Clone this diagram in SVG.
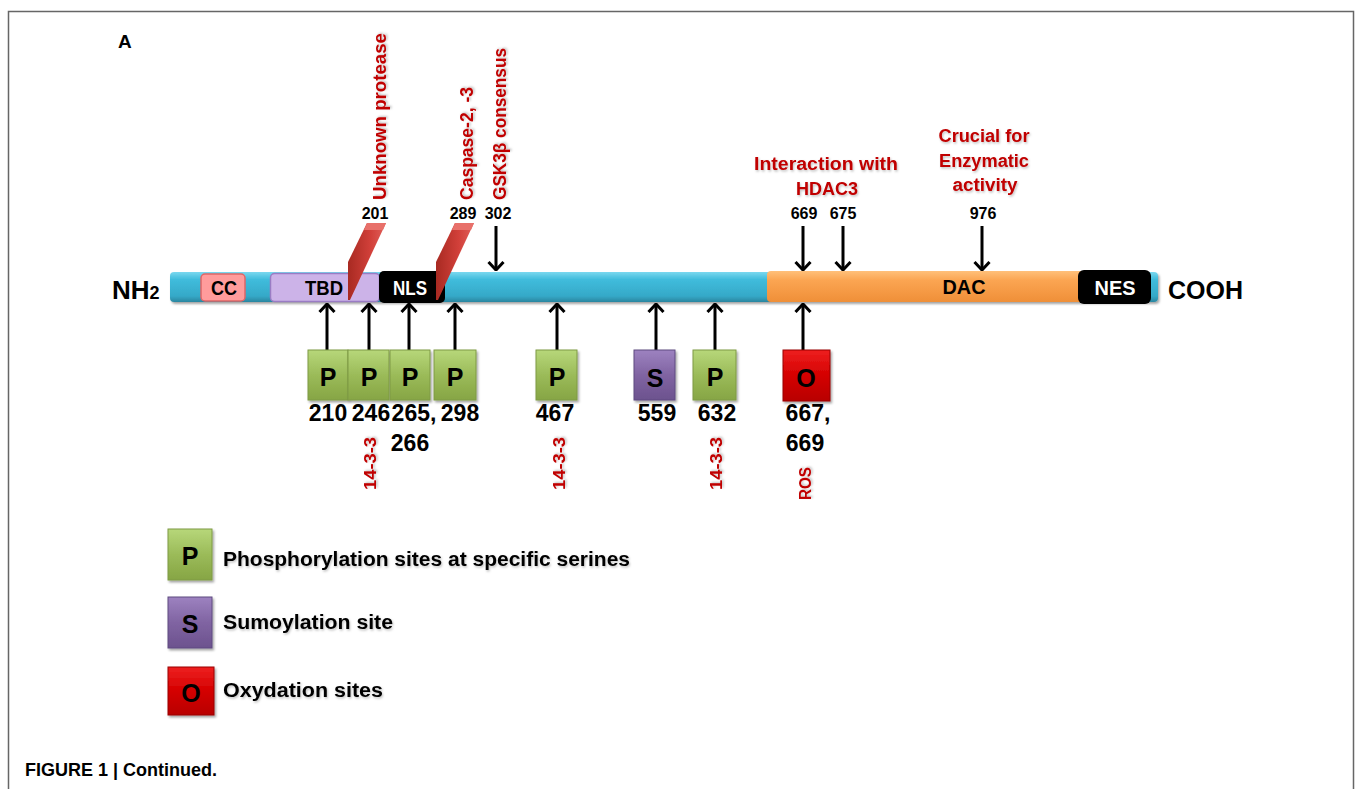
<svg xmlns="http://www.w3.org/2000/svg" width="1355" height="789" viewBox="0 0 1355 789">
<defs>
  <linearGradient id="gBar" x1="0" y1="0" x2="0" y2="1">
    <stop offset="0" stop-color="#7ad8ef"/>
    <stop offset="0.25" stop-color="#40bcdc"/>
    <stop offset="0.8" stop-color="#35a9c8"/>
    <stop offset="1" stop-color="#2a86a0"/>
  </linearGradient>
  <linearGradient id="gDac" x1="0" y1="0" x2="0" y2="1">
    <stop offset="0" stop-color="#ffc07a"/>
    <stop offset="0.3" stop-color="#fba552"/>
    <stop offset="1" stop-color="#ef8f38"/>
  </linearGradient>
  <linearGradient id="gGreen" x1="0" y1="0" x2="0" y2="1">
    <stop offset="0" stop-color="#b7d77a"/>
    <stop offset="0.5" stop-color="#9bbb59"/>
    <stop offset="1" stop-color="#86a544"/>
  </linearGradient>
  <linearGradient id="gPurple" x1="0" y1="0" x2="0" y2="1">
    <stop offset="0" stop-color="#9d82c0"/>
    <stop offset="0.5" stop-color="#8064a2"/>
    <stop offset="1" stop-color="#6c528e"/>
  </linearGradient>
  <linearGradient id="gRed" x1="0" y1="0" x2="0" y2="1">
    <stop offset="0" stop-color="#ee2020"/>
    <stop offset="0.5" stop-color="#d40000"/>
    <stop offset="1" stop-color="#b80000"/>
  </linearGradient>
  <linearGradient id="gBlade" x1="0" y1="0" x2="1" y2="0">
    <stop offset="0" stop-color="#a82a22"/>
    <stop offset="0.6" stop-color="#d2403a"/>
    <stop offset="1" stop-color="#e0605a"/>
  </linearGradient>
  <filter id="sh" x="-10%" y="-10%" width="130%" height="140%">
    <feDropShadow dx="1.5" dy="2" stdDeviation="1.2" flood-color="#000" flood-opacity="0.35"/>
  </filter>
  <filter id="tsh" x="-5%" y="-20%" width="110%" height="150%">
    <feDropShadow dx="1" dy="1.5" stdDeviation="1" flood-color="#000" flood-opacity="0.25"/>
  </filter>
  <marker id="ah" viewBox="0 0 10 18" refX="9" refY="9" markerWidth="10" markerHeight="18" markerUnits="userSpaceOnUse" orient="auto">
    <path d="M1,1.5 L9,9 L1,16.5" fill="none" stroke="#000" stroke-width="3"/>
  </marker>
  <style>
    text { font-family: "Liberation Sans", Arial, sans-serif; }
    .b { font-weight: bold; }
    .red { fill: #c00000; font-weight: bold; }
    .num { font-size: 23px; font-weight: bold; fill: #000; text-anchor: middle; }
    .tnum { font-size: 16px; font-weight: bold; fill: #000; text-anchor: middle; }
    .lt { font-size: 25px; font-weight: bold; fill: #000; text-anchor: middle; }
    .leg { font-size: 20px; font-weight: bold; fill: #000; }
    .dom { font-size: 20px; font-weight: bold; text-anchor: middle; }
    .arr { stroke: #000; stroke-width: 3; fill: none; marker-end: url(#ah); }
  </style>
</defs>

<rect x="0" y="0" width="1355" height="789" fill="#fff"/>
<path d="M8.5,789 V11.5 H1353.5 V789" fill="none" stroke="#666" stroke-width="1.5"/>

<text x="118" y="48" class="b" font-size="19">A</text>

<g id="protein">
  <rect x="170" y="272" width="988" height="30" rx="4" fill="url(#gBar)" filter="url(#sh)"/>
  <rect x="767" y="271" width="318" height="31" rx="4" fill="url(#gDac)"/>
  <text x="964" y="294" class="dom" textLength="43" lengthAdjust="spacingAndGlyphs">DAC</text>
</g>
<g id="CC">
  <rect x="201" y="274" width="44" height="27" rx="4" fill="#ff9c9c" stroke="#e06565" stroke-width="1.5"/>
  <text x="224" y="295" class="dom" textLength="26" lengthAdjust="spacingAndGlyphs">CC</text>
</g>
<g id="TBD">
  <rect x="270.5" y="273.5" width="109" height="28" rx="4" fill="#ccb3e8" stroke="#9a7cc4" stroke-width="1.5"/>
  <text x="324" y="295" class="dom" textLength="38" lengthAdjust="spacingAndGlyphs">TBD</text>
</g>
<g id="NLS">
  <rect x="379" y="271" width="66" height="32" rx="5" fill="#000"/>
  <text x="410" y="295" class="dom" fill="#fff" textLength="34" lengthAdjust="spacingAndGlyphs">NLS</text>
</g>
<g id="NES">
  <rect x="1078" y="270" width="73" height="34" rx="6" fill="#000"/>
  <text x="1115" y="295" class="dom" fill="#fff" textLength="41" lengthAdjust="spacingAndGlyphs">NES</text>
</g>
<g id="NH2">
  <text x="112" y="299" class="b" font-size="26">NH<tspan font-size="18">2</tspan></text>
</g>
<g id="COOH">
  <text x="1168" y="299" class="b" font-size="25">COOH</text>
</g>

<g id="cleavage-201">
  <polygon points="367,223 386,223 350,300 348,300 348,262" fill="url(#gBlade)"/>
  <polygon points="367,223 386,223 383,230 364,230" fill="#e8706a"/>
  <text x="375" y="219" class="tnum">201</text>
  <text transform="translate(386,200) rotate(-90)" class="red" font-size="18" textLength="167" lengthAdjust="spacingAndGlyphs" filter="url(#tsh)">Unknown protease</text>
</g>
<g id="cleavage-289">
  <polygon points="455,223 474,223 438,300 436,300 436,262" fill="url(#gBlade)"/>
  <polygon points="455,223 474,223 471,230 452,230" fill="#e8706a"/>
  <text x="463" y="219" class="tnum">289</text>
  <text transform="translate(473,200) rotate(-90)" class="red" font-size="18" textLength="113" lengthAdjust="spacingAndGlyphs" filter="url(#tsh)">Caspase-2, -3</text>
</g>
<g id="site-302">
  <text x="498" y="219" class="tnum">302</text>
  <text transform="translate(506,200) rotate(-90)" class="red" font-size="18" textLength="152" lengthAdjust="spacingAndGlyphs" filter="url(#tsh)">GSK3β consensus</text>
</g>
<g id="site-669-675">
  <text x="826" y="170" class="red" font-size="18" text-anchor="middle" textLength="144" lengthAdjust="spacingAndGlyphs" filter="url(#tsh)">Interaction with</text>
  <text x="827" y="195" class="red" font-size="18" text-anchor="middle" textLength="62" lengthAdjust="spacingAndGlyphs" filter="url(#tsh)">HDAC3</text>
  <text x="804" y="219" class="tnum">669</text>
  <text x="843" y="219" class="tnum">675</text>
</g>
<g id="site-976">
  <text x="984" y="142" class="red" font-size="18" text-anchor="middle" textLength="91" lengthAdjust="spacingAndGlyphs" filter="url(#tsh)">Crucial for</text>
  <text x="984" y="167" class="red" font-size="18" text-anchor="middle" textLength="90" lengthAdjust="spacingAndGlyphs" filter="url(#tsh)">Enzymatic</text>
  <text x="985" y="191" class="red" font-size="18" text-anchor="middle" textLength="65" lengthAdjust="spacingAndGlyphs" filter="url(#tsh)">activity</text>
  <text x="983" y="219" class="tnum">976</text>
</g>

<g id="connectors">
  <line x1="496" y1="226" x2="496" y2="270" class="arr"/>
  <line x1="803" y1="226" x2="803" y2="270" class="arr"/>
  <line x1="843" y1="226" x2="843" y2="270" class="arr"/>
  <line x1="982" y1="226" x2="982" y2="270" class="arr"/>
  <line x1="327" y1="350" x2="327" y2="304" class="arr"/>
  <line x1="369" y1="350" x2="369" y2="304" class="arr"/>
  <line x1="409" y1="350" x2="409" y2="304" class="arr"/>
  <line x1="455" y1="350" x2="455" y2="304" class="arr"/>
  <line x1="557" y1="350" x2="557" y2="304" class="arr"/>
  <line x1="656" y1="350" x2="656" y2="304" class="arr"/>
  <line x1="715" y1="350" x2="715" y2="304" class="arr"/>
  <line x1="803" y1="350" x2="803" y2="304" class="arr"/>
</g>

<g id="P210">
  <rect x="308" y="350" width="40" height="50" fill="url(#gGreen)" stroke="#7f9a45" stroke-width="1" filter="url(#sh)"/>
  <text x="328" y="386" class="lt">P</text>
  <text x="328" y="421" class="num">210</text>
</g>
<g id="P246">
  <rect x="348" y="350" width="41" height="50" fill="url(#gGreen)" stroke="#7f9a45" stroke-width="1" filter="url(#sh)"/>
  <text x="369" y="386" class="lt">P</text>
  <text x="371" y="421" class="num">246</text>
  <text transform="translate(376,490) rotate(-90)" class="red" font-size="16" textLength="53" lengthAdjust="spacingAndGlyphs" filter="url(#tsh)">14-3-3</text>
</g>
<g id="P265">
  <rect x="390" y="350" width="40" height="50" fill="url(#gGreen)" stroke="#7f9a45" stroke-width="1" filter="url(#sh)"/>
  <text x="410" y="386" class="lt">P</text>
  <text x="414" y="421" class="num">265,</text>
  <text x="410" y="451" class="num">266</text>
</g>
<g id="P298">
  <rect x="434" y="350" width="42" height="50" fill="url(#gGreen)" stroke="#7f9a45" stroke-width="1" filter="url(#sh)"/>
  <text x="455" y="386" class="lt">P</text>
  <text x="460" y="421" class="num">298</text>
</g>
<g id="P467">
  <rect x="536" y="350" width="41" height="50" fill="url(#gGreen)" stroke="#7f9a45" stroke-width="1" filter="url(#sh)"/>
  <text x="557" y="386" class="lt">P</text>
  <text x="555" y="421" class="num">467</text>
  <text transform="translate(565,490) rotate(-90)" class="red" font-size="16" textLength="53" lengthAdjust="spacingAndGlyphs" filter="url(#tsh)">14-3-3</text>
</g>
<g id="S559">
  <rect x="634" y="350" width="41" height="50" fill="url(#gPurple)" stroke="#5f4a80" stroke-width="1" filter="url(#sh)"/>
  <text x="655" y="387" class="lt">S</text>
  <text x="657" y="421" class="num">559</text>
</g>
<g id="P632">
  <rect x="693" y="350" width="43" height="50" fill="url(#gGreen)" stroke="#7f9a45" stroke-width="1" filter="url(#sh)"/>
  <text x="715" y="386" class="lt">P</text>
  <text x="717" y="421" class="num">632</text>
  <text transform="translate(722,490) rotate(-90)" class="red" font-size="16" textLength="53" lengthAdjust="spacingAndGlyphs" filter="url(#tsh)">14-3-3</text>
</g>
<g id="O667">
  <rect x="783" y="350" width="47" height="51" fill="url(#gRed)" stroke="#900" stroke-width="1" filter="url(#sh)"/>
  <text x="806" y="387" class="lt">O</text>
  <text x="808" y="421" class="num">667,</text>
  <text x="805" y="451" class="num">669</text>
  <text transform="translate(811,500) rotate(-90)" class="red" font-size="16" textLength="33" lengthAdjust="spacingAndGlyphs" filter="url(#tsh)">ROS</text>
</g>

<g id="legend-P">
  <rect x="168" y="529" width="44" height="51" fill="url(#gGreen)" stroke="#7f9a45" stroke-width="1" filter="url(#sh)"/>
  <text x="190" y="565" class="lt">P</text>
  <text x="223" y="566" class="leg" textLength="407" lengthAdjust="spacingAndGlyphs" filter="url(#tsh)">Phosphorylation sites at specific serines</text>
</g>
<g id="legend-S">
  <rect x="168" y="597" width="44" height="51" fill="url(#gPurple)" stroke="#5f4a80" stroke-width="1" filter="url(#sh)"/>
  <text x="190" y="633" class="lt">S</text>
  <text x="223" y="629" class="leg" textLength="170" lengthAdjust="spacingAndGlyphs" filter="url(#tsh)">Sumoylation site</text>
</g>
<g id="legend-O">
  <rect x="168" y="667" width="46" height="48" fill="url(#gRed)" stroke="#900" stroke-width="1" filter="url(#sh)"/>
  <text x="191" y="702" class="lt">O</text>
  <text x="223" y="697" class="leg" textLength="160" lengthAdjust="spacingAndGlyphs" filter="url(#tsh)">Oxydation sites</text>
</g>

<text x="25" y="776" class="b" font-size="18">FIGURE 1 | Continued.</text>
</svg>
